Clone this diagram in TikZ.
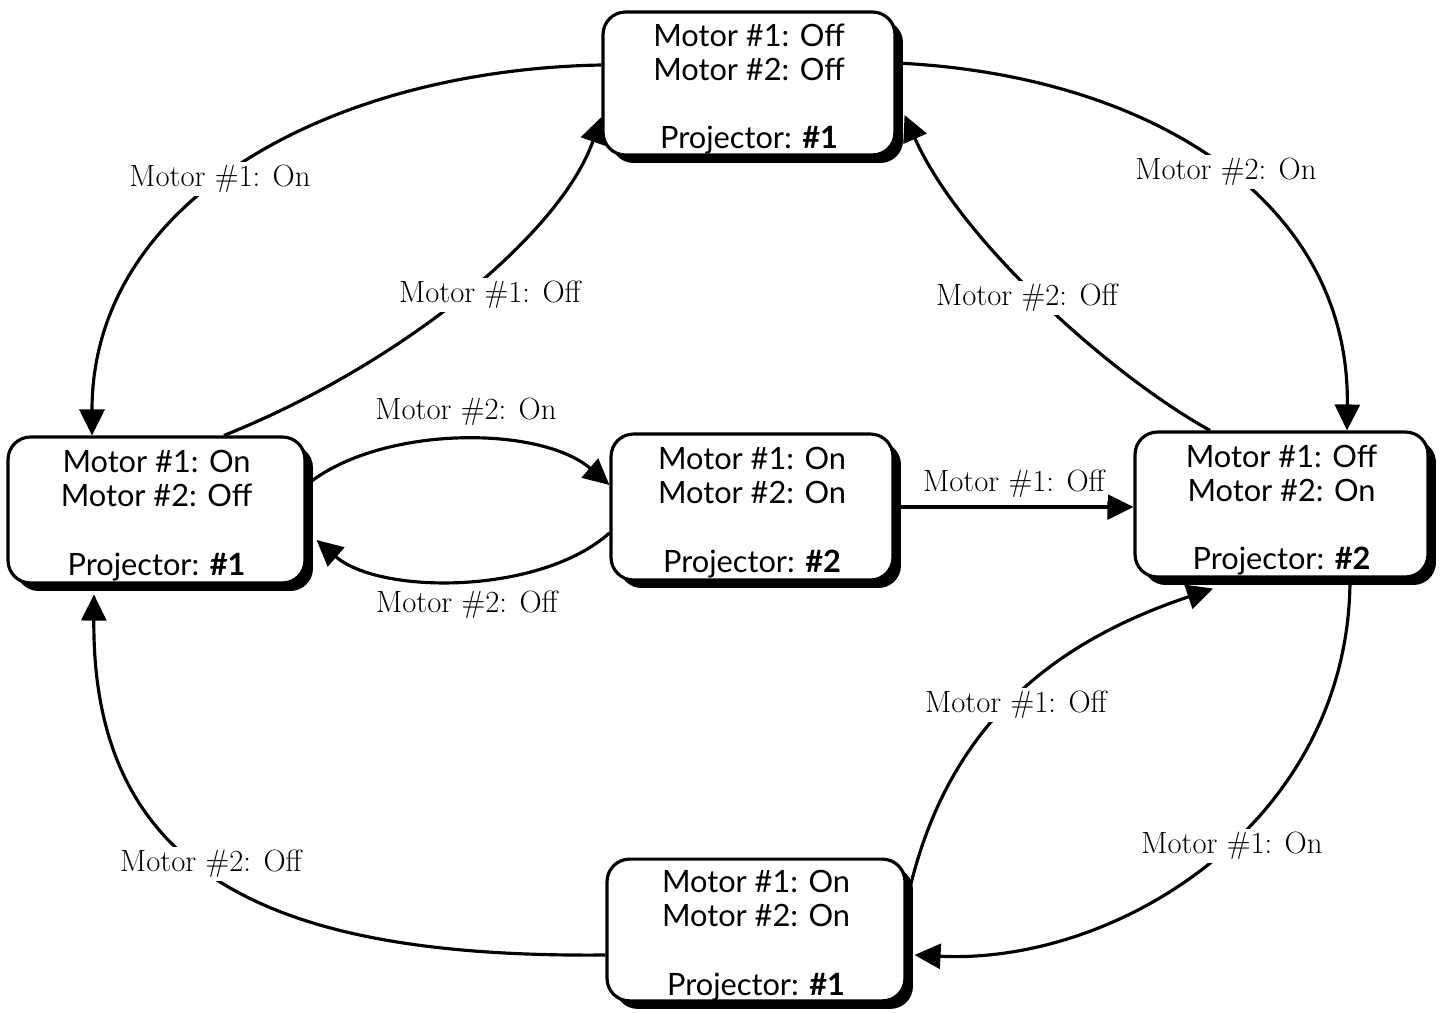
\documentclass[tikz,border=0pt]{standalone}
\usepackage{fontspec}
\newfontfamily\boxfont{Lato}
\usetikzlibrary{arrows.meta,shadows,calc}
\newcommand{\tstrut}{\rule{0pt}{19pt}}
\begin{document}
\begin{tikzpicture}[x=0.02cm,y=-0.02cm,
  state/.style={draw, line width=1.8pt, rounded corners=0.45cm, fill=white,
    inner sep=0pt, align=center, font=\boxfont\fontsize{17.5}{19.5}\selectfont,
    drop shadow={shadow xshift=0.16cm, shadow yshift=-0.16cm, opacity=1, fill=black}},
  trans/.style={line width=1.8pt, -{Triangle[length=0.52cm,width=0.5cm]}},
  lab/.style={fill=white, inner sep=2pt, font=\fontsize{17.5}{19}\selectfont}
]
\useasboundingbox (0,0) rectangle (1443,1013);

% states
\node[state, minimum width=5.84cm, minimum height=2.86cm] (top) at (749,83.5)
  {\tstrut Motor \#1: Off\\Motor \#2: Off\\[19.5pt]Projector: \textbf{\#1}};
\node[state, minimum width=5.94cm, minimum height=2.92cm] (left) at (156.5,510)
  {\tstrut Motor \#1: On\\Motor \#2: Off\\[19.5pt]Projector: \textbf{\#1}};
\node[state, minimum width=5.64cm, minimum height=2.92cm] (center) at (752,507)
  {\tstrut Motor \#1: On\\Motor \#2: On\\[19.5pt]Projector: \textbf{\#2}};
\node[state, minimum width=5.86cm, minimum height=2.90cm] (right) at (1281.5,504.5)
  {\tstrut Motor \#1: Off\\Motor \#2: On\\[19.5pt]Projector: \textbf{\#2}};
\node[state, minimum width=5.96cm, minimum height=2.80cm] (bottom) at (756,930)
  {\tstrut Motor \#1: On\\Motor \#2: On\\[19.5pt]Projector: \textbf{\#1}};

% transitions
\draw[trans] ($(top.west)+(0,-18.5)$) .. controls (330,70) and (92,200) .. ($(left.north)+(-64.5,0)$);
\draw[trans] ($(left.north)+(67.5,0)$) .. controls (400,365) and (560,235) .. ($(top.west)+(0,33.5)$);
\draw[trans] ($(left.east)+(0,-25)$) .. controls (380,425) and (540,425) .. ($(center.west)+(0,-22)$);
\draw[trans] ($(center.west)+(0,26)$) .. controls (540,595) and (380,595) .. ($(left.east)+(10,30)$);
\draw[trans] (center.east) -- (center.east -| right.west);
\draw[trans] ($(top.east)+(0,-20.5)$) .. controls (1150,75) and (1350,200) .. ($(right.north)+(65.5,0)$);
\draw[trans] ($(right.north)+(-71.5,0)$) .. controls (1110,375) and (960,240) .. ($(top.east)+(8,31.5)$);
\draw[trans] ($(right.south)+(68.5,0)$) .. controls (1350,820) and (1120,965) .. ($(bottom.east)+(8,25)$);
\draw[trans] ($(bottom.east)+(0,-27)$) .. controls (945,720) and (1060,640) .. ($(right.south)+(-68.5,10)$);
\draw[trans] ($(bottom.west)+(0,25)$) .. controls (280,958) and (92,880) .. ($(left.south)+(-62.5,10)$);

% labels
\node[lab] (l1) at (220,179) {Motor \#1: On};
\node[lab] (l2) at (490,295) {Motor \#1: Off};
\node[lab] (l3) at (466,412) {Motor \#2: On};
\node[lab] (l4) at (467,605) {Motor \#2: Off};
\node[lab] (l5) at (1014,484) {Motor \#1: Off};
\node[lab] (l6) at (1226,172) {Motor \#2: On};
\node[lab] (l7) at (1027,298) {Motor \#2: Off};
\node[lab] (l8) at (1232,846) {Motor \#1: On};
\node[lab] (l9) at (1016,705) {Motor \#1: Off};
\node[lab] (l10) at (211,864) {Motor \#2: Off};
\end{tikzpicture}
\end{document}
